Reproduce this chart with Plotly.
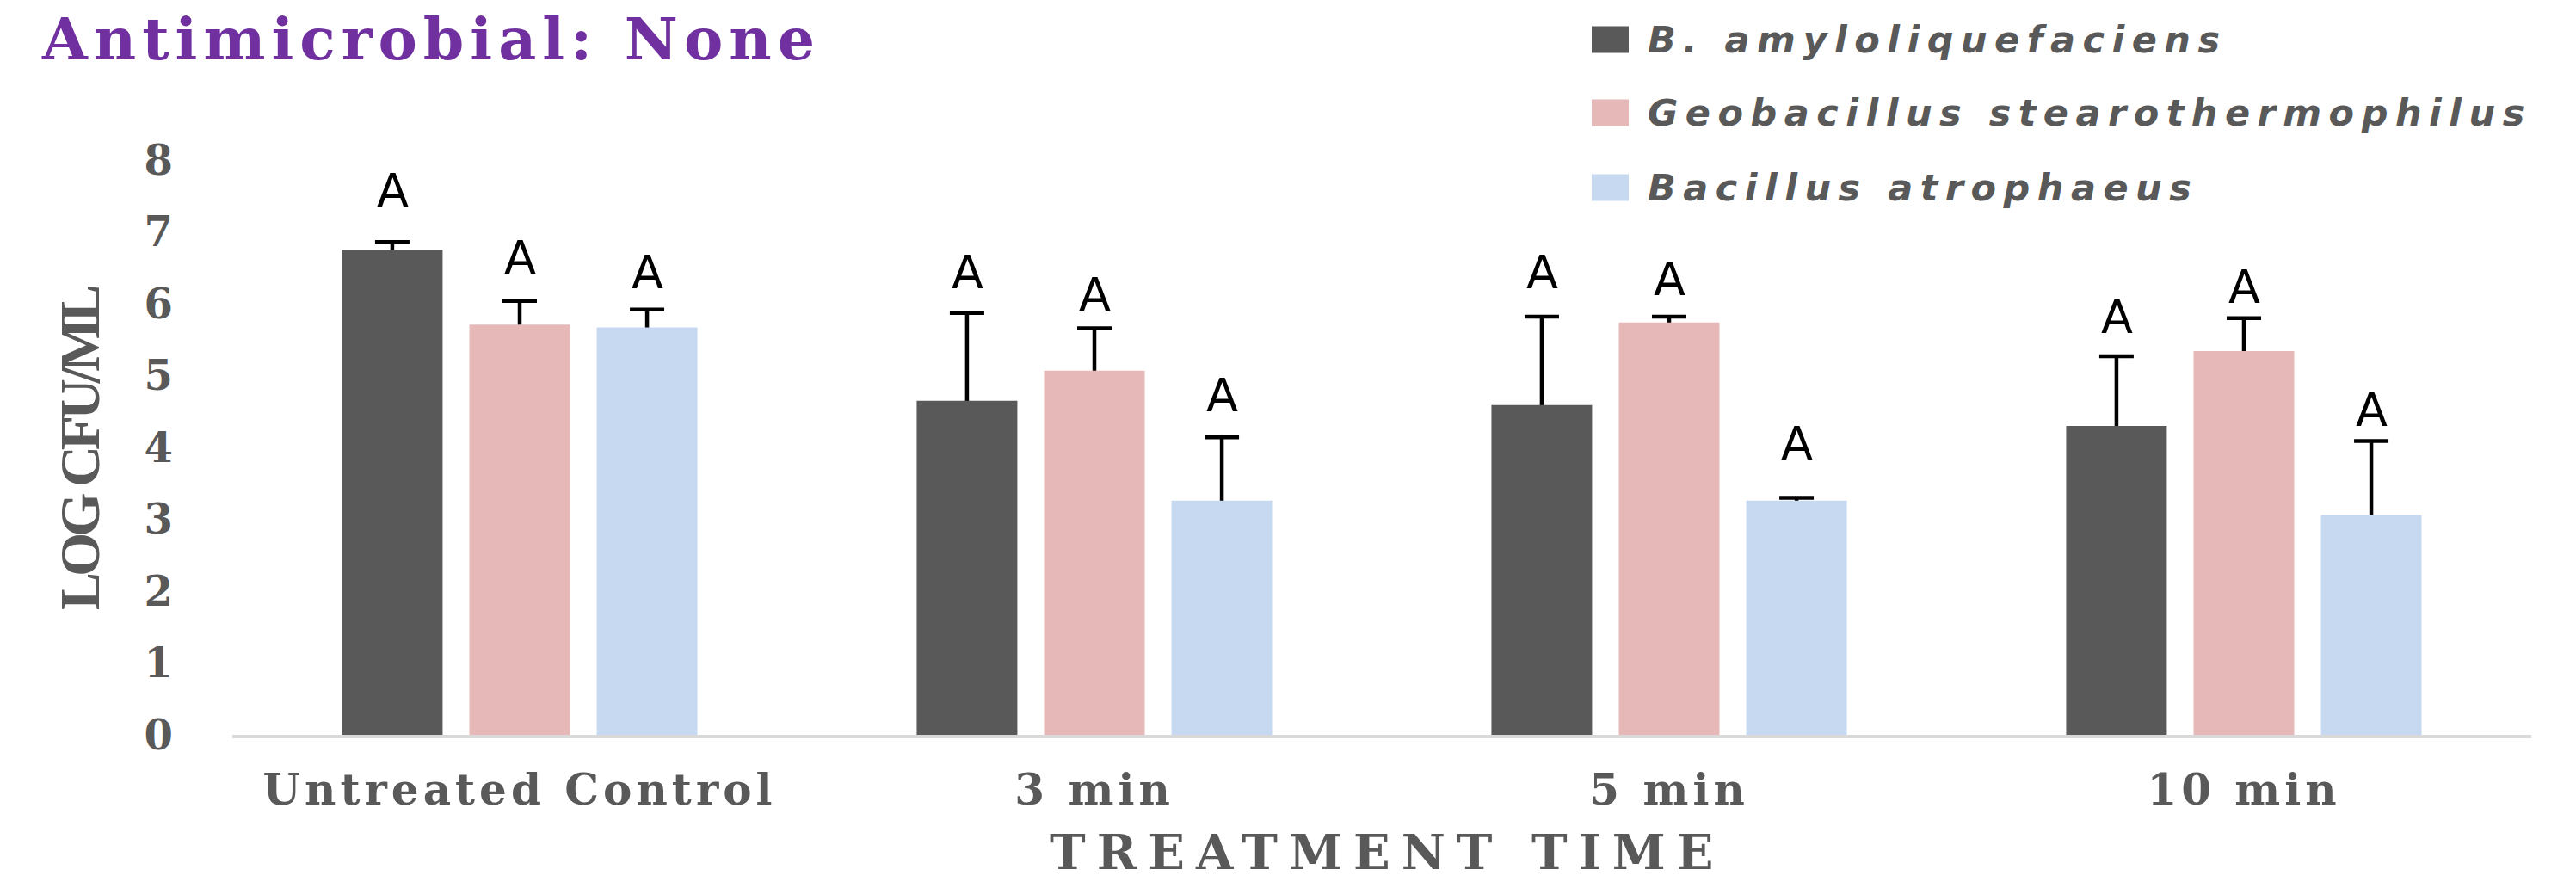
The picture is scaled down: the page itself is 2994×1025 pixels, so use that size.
import plotly.graph_objects as go

# ---- data -------------------------------------------------------------
categories = ["Untreated Control", "3 min", "5 min", "10 min"]
series_names = ["B. amyloliquefaciens", "Geobacillus stearothermophilus", "Bacillus atrophaeus"]

amylo_mean = [6.75, 4.65, 4.59, 4.30]
amylo_err = [0.11, 1.22, 1.23, 0.97]
geo_mean = [5.71, 5.07, 5.74, 5.34]
geo_err = [0.33, 0.59, 0.08, 0.46]
atro_mean = [5.67, 3.26, 3.26, 3.06]
atro_err = [0.25, 0.88, 0.04, 1.03]

amylo_letters = ["A", "A", "A", "A"]
geo_letters = ["A", "A", "A", "A"]
atro_letters = ["A", "A", "A", "A"]

y_ticks = [0, 1, 2, 3, 4, 5, 6, 7, 8]

# ---- styling ----------------------------------------------------------
colors = ["#595959", "#E6B8B7", "#C6D9F1"]
GRAY = "#595959"
PURPLE = "#7030A0"
SERIF = "DejaVu Serif"
SANS = "DejaVu Sans"

W, H = 2994, 1025
PLOT_L, PLOT_R, PLOT_T, PLOT_B = 270, 2942, 186, 854
SLOT = 148  # px between neighbouring bars inside a group

# gap (log units) between each error-bar cap and its significance letter
letter_gap = [
    [0.47, 0.33, 0.38, 0.30],
    [0.36, 0.23, 0.28, 0.19],
    [0.28, 0.34, 0.52, 0.19],
]


def px(x):
    return (x - PLOT_L) / (PLOT_R - PLOT_L)


def py(y):
    return (PLOT_B - y) / (PLOT_B - PLOT_T)


def spaced(text, ls):
    return f'<span style="letter-spacing:{ls}px">{text}</span>'


means = [amylo_mean, geo_mean, atro_mean]
errs = [amylo_err, geo_err, atro_err]
letters = [amylo_letters, geo_letters, atro_letters]

fig = go.Figure()

# error bars first (symmetric), so the opaque bars drawn afterwards hide the lower half
for i in range(3):
    fig.add_trace(go.Bar(
        x=categories, y=means[i], offsetgroup=str(i),
        marker=dict(color="rgba(0,0,0,0)", line=dict(width=0)),
        error_y=dict(type="data", array=errs[i], visible=True,
                     color="#000000", thickness=4.5, width=20),
        showlegend=False, hoverinfo="skip",
    ))

for i in range(3):
    fig.add_trace(go.Bar(
        x=categories, y=means[i], name=series_names[i], offsetgroup=str(i),
        marker=dict(color=colors[i], line=dict(width=0)),
        showlegend=False,
    ))

annotations = []

# significance letters above every bar
for i in range(3):
    for j, cat in enumerate(categories):
        annotations.append(dict(
            x=cat, xref="x", y=means[i][j] + errs[i][j] + letter_gap[i][j], yref="y",
            text=letters[i][j], showarrow=False, xanchor="center", yanchor="middle",
            xshift=(i - 1) * SLOT, yshift=20,
            font=dict(family=SANS, size=54, color="#000000"),
        ))

# chart title
annotations.append(dict(
    x=px(46), y=py(45), xref="paper", yref="paper", xanchor="left", yanchor="middle",
    text=spaced("Antimicrobial: None", 7), showarrow=False,
    font=dict(family=SERIF, size=68, color=PURPLE, weight="bold"),
))

# axis titles
annotations.append(dict(
    x=px(1612), y=py(990), xref="paper", yref="paper", xanchor="center", yanchor="middle",
    text=spaced("TREATMENT TIME", 13), showarrow=False,
    font=dict(family=SERIF, size=56, color=GRAY, weight="bold"),
))
annotations.append(dict(
    x=px(92), y=py(521), xref="paper", yref="paper", xanchor="center", yanchor="middle",
    text=spaced("LOG CFU/ML", -5), showarrow=False, textangle=-90,
    font=dict(family="Liberation Serif", size=66, color=GRAY, weight="bold"),
))

# legend
legend_rows = [46, 131, 218]
shapes = []
for i, name in enumerate(series_names):
    c = legend_rows[i]
    shapes.append(dict(
        type="rect", xref="paper", yref="paper",
        x0=px(1850), x1=px(1893), y0=py(c + 15.5), y1=py(c - 15.5),
        fillcolor=colors[i], line=dict(width=0),
    ))
    annotations.append(dict(
        x=px(1913), y=py(c), xref="paper", yref="paper", xanchor="left", yanchor="middle",
        text=spaced(name, 8.5), showarrow=False,
        font=dict(family=SANS, size=43, color=GRAY, weight="bold", style="italic"),
    ))

fig.update_layout(
    width=W, height=H,
    margin=dict(l=PLOT_L, r=W - PLOT_R, t=PLOT_T, b=H - PLOT_B, pad=0),
    paper_bgcolor="white", plot_bgcolor="white",
    barmode="group", bargap=0.335, bargroupgap=0.21,
    showlegend=False,
    annotations=annotations, shapes=shapes,
    xaxis=dict(
        type="category", tickmode="array", tickvals=categories,
        ticktext=[spaced(c, 5) for c in categories],
        showline=True, linecolor="#D9D9D9", linewidth=4, ticks="",
        showgrid=False, zeroline=False, ticklabelstandoff=17,
        tickfont=dict(family=SERIF, size=50, color=GRAY, weight="bold"),
    ),
    yaxis=dict(
        range=[0, 8], tickmode="array", tickvals=y_ticks,
        showline=False, showgrid=False, zeroline=False, ticks="",
        ticklabelstandoff=68,
        tickfont=dict(family=SERIF, size=48, color=GRAY, weight="bold"),
    ),
)

fig.write_html("out.html")
